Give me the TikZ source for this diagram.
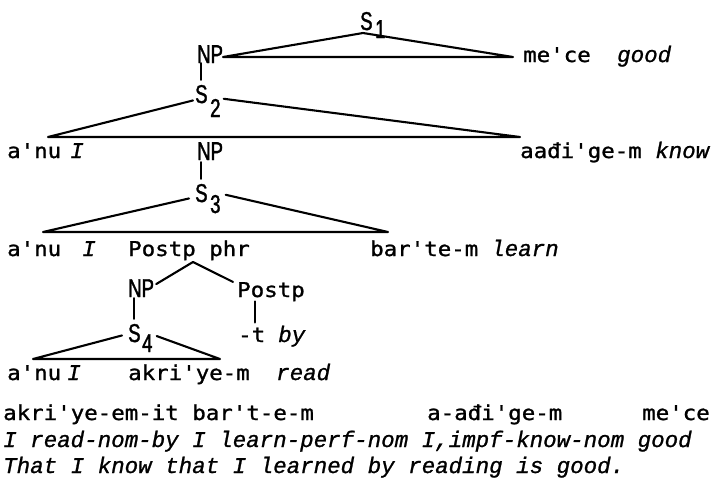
\documentclass[tikz,border=0pt]{standalone}
\usepackage{fontspec}
\newfontfamily\wordfont[FakeStretch=1.1,FakeBold=1.2,Ligatures=TeXOff]{DejaVu Sans Mono}
\newfontfamily\glossfont[FakeBold=1,Ligatures=TeXOff]{Liberation Mono}
\newfontfamily\labfont[FakeStretch=0.72,FakeBold=1.5]{Liberation Sans}
\tikzset{
  word/.style={anchor=base west, inner sep=0pt, font=\wordfont\fontsize{20.4}{22}\selectfont},
  gloss/.style={anchor=base west, inner sep=0pt, font=\glossfont\itshape\fontsize{22.5}{24}\selectfont},
  lab/.style={anchor=base west, inner sep=0pt, font=\labfont\fontsize{25.8}{26}\selectfont},
  branch/.style={line width=2.1pt, line cap=round, line join=round},
}
\begin{document}
\begin{tikzpicture}[x=1pt,y=-1pt]
\useasboundingbox[fill=white] (0,0) rectangle (715,482);

% ---- S1 ----
\node[lab] (s1) at (360,30) {S};
\node[lab] (s1n) at (375,38) {1};
\node[lab] (np1) at (197,63) {NP};
\node[word] (mece) at (523,62) {me'ce};
\node[gloss] (good1) at (617,62) {good};
\coordinate (s1t) at (363,33);
\coordinate (s1l) at (223,57);
\coordinate (s1r) at (513,57);
\draw[branch] (s1t) -- (s1l) -- (s1r) -- cycle;

% ---- S2 ----
\node[lab] (s2) at (195,103) {S};
\node[lab] (s2n) at (210,117) {2};
\draw[branch] (np1.south -| s2.north) -- ([yshift=5pt]s2.north);
\node[word] (r2a) at (7,158) {a'nu};
\node[gloss] (r2i) at (70,158) {I};
\node[lab] (np2) at (197,160) {NP};
\node[word] (aadi) at (520,158) {aađi'ge-m};
\node[gloss] (know) at (655,158) {know};
\coordinate (s2l) at (48,137);
\coordinate (s2r) at (520,137);
\draw[branch] ([xshift=-2pt,yshift=3pt]s2.south west) -- (s2l) -- (s2r) -- ([xshift=3pt]s2n.north east);

% ---- S3 ----
\node[lab] (s3) at (195,202) {S};
\node[lab] (s3n) at (210,213) {3};
\draw[branch] ([yshift=-2pt]np2.south -| s3.north) -- ([yshift=5pt]s3.north);
\coordinate (s3l) at (43,232);
\coordinate (s3r) at (388,232);
\draw[branch] ([xshift=-6pt,yshift=4pt]s3.south west) -- (s3l) -- (s3r) -- ([xshift=5pt]s3n.north east);
\node[word] (r3a) at (7,256) {a'nu};
\node[gloss] (r3i) at (82,256) {I};
\node[word] (pp) at (128,256) {Postp phr};
\node[word] (bar) at (370,256) {bar'te-m};
\node[gloss] (learn) at (491,256) {learn};

% ---- Postp phrase ----
\node[lab] (np3) at (128,297) {NP};
\node[word] (postp) at (237,297) {Postp};
\coordinate (ppt) at (193,262);
\draw[branch] ([xshift=2pt,yshift=-5pt]np3.north east) -- (ppt) -- ([xshift=-4pt]postp.north west);
\node[word] (dt) at (238,342) {-t};
\node[gloss] (by) at (278,342) {by};
\coordinate (tcol) at (255,0);
\draw[branch] (postp.south -| tcol) -- ([yshift=5pt]dt.north -| tcol);

% ---- S4 ----
\node[lab] (s4) at (128,342) {S};
\node[lab] (s4n) at (142,352) {4};
\draw[branch] ([yshift=-1pt]np3.south -| s4.north) -- ([yshift=5pt]s4.north);
\coordinate (s4l) at (33,359);
\coordinate (s4r) at (220,359);
\draw[branch] ([xshift=-6pt,yshift=7pt]s4.south west) -- (s4l) -- (s4r) -- ([xshift=4pt,yshift=-2pt]s4n.north east);
\node[word] (r6a) at (7,380) {a'nu};
\node[gloss] (r6i) at (67,380) {I};
\node[word] (akri) at (128,380) {akri'ye-m};
\node[gloss] (read) at (276,380) {read};

% ---- sentence and glosses ----
\node[word] (l1a) at (3,420) {akri'ye-em-it bar't-e-m};
\node[word] (l1b) at (427,420) {a-ađi'ge-m};
\node[word] (l1c) at (642,420) {me'ce};
\node[gloss] (l2) at (3,447) {I read-nom-by I learn-perf-nom I,impf-know-nom good};
\node[gloss] (l3) at (3,473) {That I know that I learned by reading is good.};
\end{tikzpicture}
\end{document}
